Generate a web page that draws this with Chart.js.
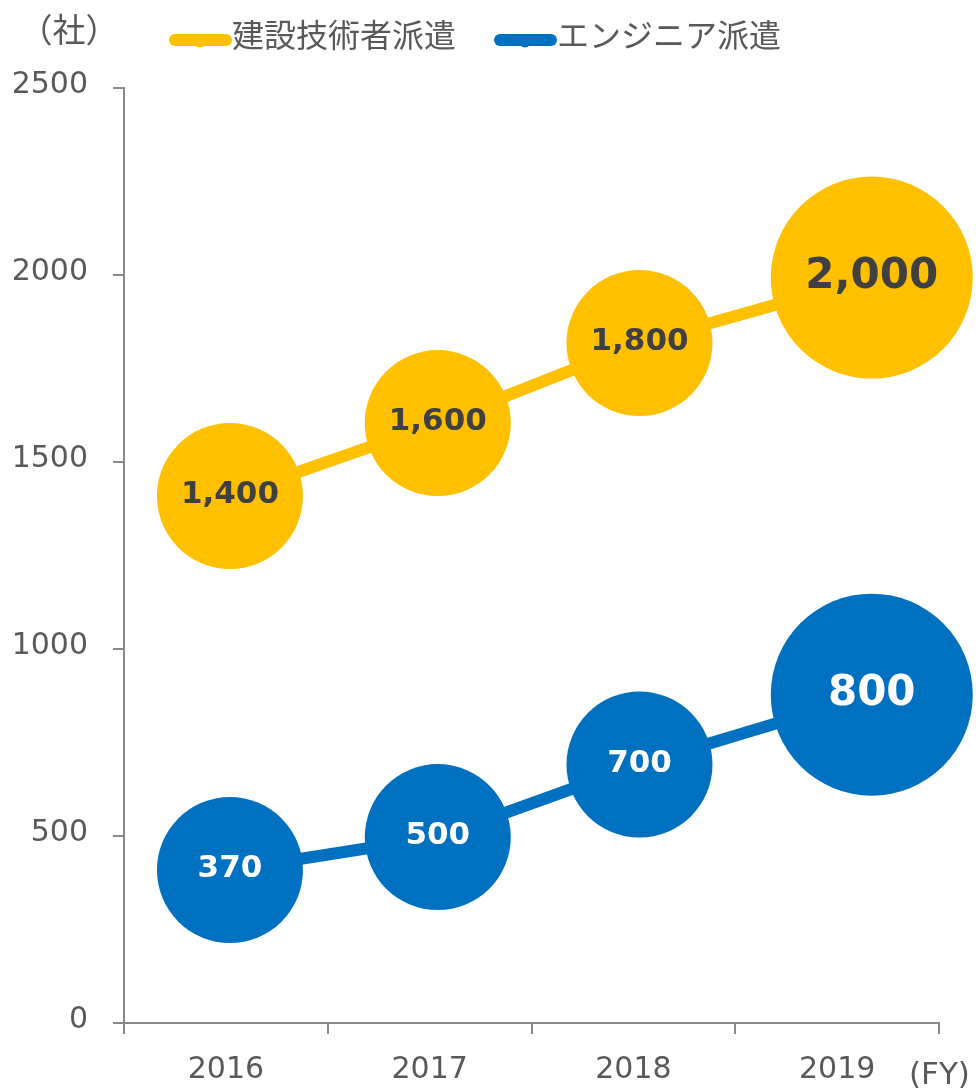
<!DOCTYPE html>
<html>
<head>
<meta charset="utf-8">
<script src="https://cdn.jsdelivr.net/npm/chart.js@4.4.0/dist/chart.umd.min.js"></script>
<style>
	body { margin: 0; background: #fff; }
	#wrap { width: 976px; height: 1091px; position: relative; }
</style>
</head>
<body>
<div id="wrap"><canvas id="myChart"></canvas></div>
<script>
var anos = ['2016', '2017', '2018', '2019'];
// posicao de cada bolha no eixo x (ano fiscal)
var posicaoAno = [2016.02, 2017.04, 2018.03, 2019.17];
var nomesSeries = ['建設技術者派遣', 'エンジニア派遣'];
var valoresKensetsu = [1409, 1604, 1818, 1993];
var rotulosKensetsu = [1400, 1600, 1800, 2000];
var valoresEngenheiro = [409, 497, 691, 878];
var rotulosEngenheiro = [370, 500, 700, 800];
var ticksY = [0, 500, 1000, 1500, 2000, 2500];

var CINZA = '#898989';
var TEXTO = '#595959';
var FONTE = '"DejaVu Sans", "Noto Sans CJK JP", sans-serif';
var FONTE_JP = '"Noto Sans CJK JP", "DejaVu Sans", sans-serif';

function montarPontos(valores){
	return valores.map(function(v, i){
		return { x: posicaoAno[i], y: v };
	});
}

var rotulosBolhas = {
	id: 'rotulosBolhas',
	afterDatasetsDraw: function(chart){
		var ctx = chart.ctx;
		chart.data.datasets.forEach(function(ds, i){
			var meta = chart.getDatasetMeta(i);
			meta.data.forEach(function(pt, j){
				var r = pt.options.radius;
				ctx.save();
				ctx.font = 'bold ' + Math.round(r * 0.42) + 'px ' + FONTE;
				ctx.fillStyle = ds.corRotulo;
				ctx.textAlign = 'center';
				ctx.textBaseline = 'middle';
				ctx.fillText(ds.rotulos[j].toLocaleString('en-US'), pt.x, pt.y - 1);
				ctx.restore();
			});
		});
	}
};

var legendaETitulos = {
	id: 'legendaETitulos',
	afterDraw: function(chart){
		var ctx = chart.ctx;
		ctx.save();
		// legenda
		var x = 169, y = 40;
		ctx.font = '32px ' + FONTE_JP;
		chart.data.datasets.forEach(function(ds){
			ctx.strokeStyle = ds.borderColor;
			ctx.fillStyle = ds.borderColor;
			ctx.lineWidth = 12;
			ctx.lineCap = 'round';
			ctx.beginPath();
			ctx.moveTo(x + 6, y);
			ctx.lineTo(x + 57, y);
			ctx.stroke();
			ctx.beginPath();
			ctx.arc(x + 31, y + 1, 6.5, 0, Math.PI * 2);
			ctx.fill();
			ctx.fillStyle = TEXTO;
			ctx.textAlign = 'left';
			ctx.textBaseline = 'middle';
			ctx.fillText(ds.label, x + 63, 35);
			x += 63 + ctx.measureText(ds.label).width + 38;
		});
		// titulos dos eixos
		ctx.fillStyle = TEXTO;
		ctx.font = '33px ' + FONTE_JP;
		ctx.textAlign = 'center';
		ctx.fillText('（社）', 69, 29);
		ctx.font = '31px ' + FONTE;
		ctx.textAlign = 'left';
		ctx.fillText('(FY)', 909, 1076);
		ctx.restore();
	}
};

function renderChart(){
	var ctx = document.getElementById('myChart').getContext('2d');
	var datasets = [
		{
			label: nomesSeries[0],
			data: montarPontos(valoresKensetsu),
			rotulos: rotulosKensetsu,
			corRotulo: '#404040',
			borderColor: '#FFC000',
			backgroundColor: '#FFC000',
			borderWidth: 12,
			pointRadius: [73, 73, 73, 101],
			pointHoverRadius: [73, 73, 73, 101],
			pointBorderWidth: 0,
			pointBackgroundColor: '#FFC000',
			tension: 0,
			clip: false
		},
		{
			label: nomesSeries[1],
			data: montarPontos(valoresEngenheiro),
			rotulos: rotulosEngenheiro,
			corRotulo: '#ffffff',
			borderColor: '#0070C0',
			backgroundColor: '#0070C0',
			borderWidth: 12,
			pointRadius: [73, 73, 73, 101],
			pointHoverRadius: [73, 73, 73, 101],
			pointBorderWidth: 0,
			pointBackgroundColor: '#0070C0',
			tension: 0,
			clip: false
		}
	];

	var myChart = new Chart(ctx, {
		type: 'line',
		data: { datasets: datasets },
		options: {
			responsive: true,
			maintainAspectRatio: false,
			animation: false,
			events: [],
			layout: {
				autoPadding: false,
				padding: { top: 88, right: 37, left: 0, bottom: 0 }
			},
			plugins: {
				legend: { display: false },
				tooltip: { enabled: false }
			},
			scales: {
				x: {
					type: 'linear',
					min: Number(anos[0]) - 0.5,
					max: Number(anos[anos.length - 1]) + 0.5,
					afterFit: function(scale){ scale.height = 68; },
					border: { display: true, color: CINZA, width: 2 },
					grid: {
						drawOnChartArea: false,
						tickLength: 11,
						lineWidth: 2,
						tickColor: function(c){
							return Number.isInteger(c.tick.value) ? 'rgba(0,0,0,0)' : CINZA;
						}
					},
					ticks: {
						stepSize: 0.5,
						autoSkip: false,
						maxRotation: 0,
						padding: 18,
						color: TEXTO,
						font: { family: FONTE, size: 30 },
						callback: function(v){
							var i = anos.indexOf(String(v));
							return i >= 0 ? anos[i] : '';
						}
					}
				},
				y: {
					min: ticksY[0],
					max: ticksY[ticksY.length - 1],
					afterFit: function(scale){ scale.width = 124; },
					border: { display: true, color: CINZA, width: 2 },
					grid: {
						drawOnChartArea: false,
						tickLength: 11,
						lineWidth: 2,
						color: CINZA
					},
					ticks: {
						stepSize: ticksY[1] - ticksY[0],
						padding: 25,
						labelOffset: -3,
						color: TEXTO,
						font: { family: FONTE, size: 30 },
						callback: function(v){ return String(v); }
					}
				}
			}
		},
		plugins: [rotulosBolhas, legendaETitulos]
	});
}

renderChart();
</script>
</body>
</html>
